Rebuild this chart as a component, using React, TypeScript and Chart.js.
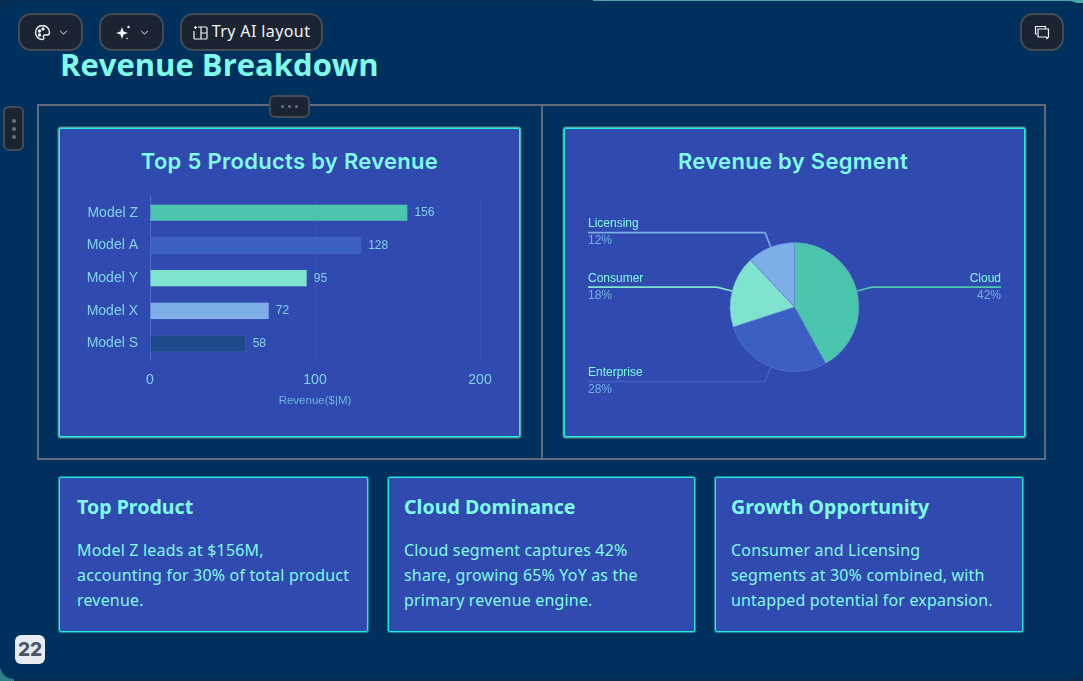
import { useEffect, useRef } from 'react';
import { Chart, registerables } from 'chart.js';

Chart.register(...registerables);

const productNames = ['Model Z', 'Model A', 'Model Y', 'Model X', 'Model S'];
const productRevenue = [156, 128, 95, 72, 58];
const productColors = ['#4cc5ae', '#3c5fc4', '#80e3cf', '#7daee8', '#1f4a8a'];
const revenueTicks = [0, 100, 200];

const segmentNames = ['Cloud', 'Enterprise', 'Consumer', 'Licensing'];
const segmentShare = [42, 28, 18, 12];
const segmentColors = ['#4cc5ae', '#3c5fc4', '#80e3cf', '#7daee8'];

const insights = [
  { title: 'Top Product', lines: ['Model Z leads at $156M,', 'accounting for 30% of total product', 'revenue.'] },
  { title: 'Cloud Dominance', lines: ['Cloud segment captures 42%', 'share, growing 65% YoY as the', 'primary revenue engine.'] },
  { title: 'Growth Opportunity', lines: ['Consumer and Licensing', 'segments at 30% combined, with', 'untapped potential for expansion.'] },
];

const CHART_FONT = '"Liberation Sans", Arial, sans-serif';
const TITLE_FONT = '"Open Sans", "Noto Sans", sans-serif';
const MINT = '#7ffbe9';
const TICK = '#7fd4ea';
const SOFT = '#6fb3e2';
const CARD = '#304ab0';

// value labels at the end of each bar
const barValues = {
  id: 'barValues',
  afterDatasetsDraw(chart: Chart) {
    const { ctx } = chart;
    ctx.save();
    ctx.font = `12px ${CHART_FONT}`;
    ctx.fillStyle = TICK;
    ctx.textBaseline = 'middle';
    chart.getDatasetMeta(0).data.forEach((bar, i) => {
      ctx.fillText(String(productRevenue[i]), bar.x + 7, bar.y);
    });
    ctx.restore();
  },
};

// leader lines and two-line labels around the pie
const pieLabels = {
  id: 'pieLabels',
  afterDatasetsDraw(chart: Chart) {
    const { ctx, width } = chart;
    ctx.save();
    ctx.font = `12px ${CHART_FONT}`;
    chart.getDatasetMeta(0).data.forEach((el: any, i) => {
      const { x, y, startAngle, endAngle, outerRadius } = el.getProps(['x', 'y', 'startAngle', 'endAngle', 'outerRadius'], true);
      const mid = (startAngle + endAngle) / 2;
      const cos = Math.cos(mid);
      const sin = Math.sin(mid);
      const right = cos > 0;
      const edge = right ? width - 23 : 23;
      const elbowY = y + sin * (outerRadius + 15.5);

      ctx.strokeStyle = segmentColors[i];
      ctx.lineWidth = 1.6;
      ctx.beginPath();
      ctx.moveTo(x + cos * outerRadius, y + sin * outerRadius);
      ctx.lineTo(x + cos * (outerRadius + 15.5), elbowY);
      ctx.lineTo(edge, elbowY);
      ctx.stroke();

      ctx.textAlign = right ? 'right' : 'left';
      ctx.textBaseline = 'middle';
      ctx.fillStyle = MINT;
      ctx.fillText(segmentNames[i], edge, elbowY - 8.5);
      ctx.fillStyle = SOFT;
      ctx.fillText(`${segmentShare[i]}%`, edge, elbowY + 8.5);
    });
    ctx.restore();
  },
};

function ProductChart() {
  const canvasRef = useRef<HTMLCanvasElement>(null);

  useEffect(() => {
    if (!canvasRef.current) return;
    const chart = new Chart(canvasRef.current, {
      type: 'bar',
      data: {
        labels: productNames,
        datasets: [{
          data: productRevenue,
          backgroundColor: productColors,
          borderColor: 'rgba(127,174,232,0.3)',
          borderWidth: 0.5,
          barThickness: 16.5,
        }],
      },
      plugins: [barValues],
      options: {
        indexAxis: 'y',
        animation: false,
        responsive: false,
        layout: { padding: { left: 0, right: 38, top: 0, bottom: 0 } },
        plugins: { legend: { display: false }, tooltip: { enabled: false } },
        scales: {
          x: {
            min: 0,
            max: 200,
            afterBuildTicks: (axis: any) => { axis.ticks = revenueTicks.map((value) => ({ value })); },
            grid: { color: 'rgba(70,100,190,0.35)', drawTicks: false },
            border: { display: false },
            ticks: { color: TICK, font: { family: CHART_FONT, size: 14 }, padding: 12, maxRotation: 0 },
            title: { display: true, text: 'Revenue($|M)', color: SOFT, font: { family: CHART_FONT, size: 11.5 }, padding: { top: 6, bottom: 0 } },
            afterFit: (axis: any) => { axis.height = 48; },
          },
          y: {
            grid: { display: false, drawTicks: false },
            border: { color: 'rgba(90,125,210,0.7)', width: 1 },
            ticks: { color: TICK, font: { family: CHART_FONT, size: 14 }, padding: 12 },
            afterFit: (axis: any) => { axis.width = 90; },
          },
        },
      },
    });
    return () => chart.destroy();
  }, []);

  return <canvas ref={canvasRef} width={458} height={232} style={{ position: 'absolute', left: 60, top: 176 }} />;
}

function SegmentChart() {
  const canvasRef = useRef<HTMLCanvasElement>(null);

  useEffect(() => {
    if (!canvasRef.current) return;
    const chart = new Chart(canvasRef.current, {
      type: 'pie',
      data: {
        labels: segmentNames,
        datasets: [{
          data: segmentShare,
          backgroundColor: segmentColors,
          borderColor: '#5f83cf',
          borderWidth: 0.5,
          radius: 64.5,
        }],
      },
      plugins: [pieLabels],
      options: {
        animation: false,
        responsive: false,
        plugins: { legend: { display: false }, tooltip: { enabled: false } },
      },
    });
    return () => chart.destroy();
  }, []);

  return <canvas ref={canvasRef} width={459} height={230} style={{ position: 'absolute', left: 565, top: 192 }} />;
}

function box(left: number, top: number, width: number, height: number) {
  return { position: 'absolute' as const, left, top, width, height, boxSizing: 'border-box' as const };
}

function ToolButton({ left, width, children }: { left: number; width: number; children: any }) {
  return (
    <div style={{ ...box(left, 13, width, 38), background: '#1b2431', border: '2px solid #454a55', borderRadius: 13, color: '#f2f4f7', display: 'flex', alignItems: 'center', justifyContent: 'center', gap: 8, fontFamily: '"Noto Sans", sans-serif', fontSize: 16 }}>
      {children}
    </div>
  );
}

const chevron = (
  <svg width="9" height="5" viewBox="0 0 10 6" fill="none" stroke="#f2f4f7" strokeWidth="1.2"><path d="M1 1l4 4 4-4" /></svg>
);

export default function App() {
  useEffect(() => {
    document.body.style.margin = '0';
    document.body.style.background = '#0e2a4c';
  }, []);

  return (
    <div style={{ position: 'fixed', left: 0, top: 0, width: 1083, height: 681, overflow: 'hidden', background: '#0e2a4c' }}>
      <div style={{ ...box(593, 0, 490, 3), background: '#4aa8a8' }} />
      <div style={{ ...box(0, 668, 14, 13), background: '#2f7f86' }} />
      <div style={{ ...box(0, 1, 1083, 678), background: '#00305e', borderRadius: 14 }} />

      <div style={{ position: 'absolute', left: 60, top: 41, fontFamily: TITLE_FONT, fontWeight: 700, fontSize: 31, lineHeight: '46px', color: MINT, whiteSpace: 'nowrap' }}>Revenue Breakdown</div>

      <div style={{ ...box(37, 104, 1009, 356), border: '2px solid #62697a' }} />
      <div style={{ ...box(541, 104, 2, 356), background: '#62697a' }} />

      {[58, 563].map((left, i) => (
        <div key={left} style={{ ...box(left + 1, 128, 461, 309), background: CARD, border: '1px solid #1ff0dc', borderRadius: 2, boxShadow: '0 0 0 1px #3fb5ae, 0 0 0 2px rgba(90,107,120,0.6)' }}>
          <div style={{ position: 'absolute', left: i === 0 ? 0 : -3, right: 0, top: 17, textAlign: 'center', fontFamily: '"Inter", sans-serif', fontWeight: 600, fontSize: 22, letterSpacing: 0.3, lineHeight: '30px', color: MINT, whiteSpace: 'nowrap' }}>
            {i === 0 ? 'Top 5 Products by Revenue' : 'Revenue by Segment'}
          </div>
        </div>
      ))}
      <ProductChart />
      <SegmentChart />

      {insights.map((card, i) => (
        <div key={card.title} style={{ ...box([59, 388, 715][i], 477, [309, 307, 308][i], 155), background: CARD, border: '1px solid #1ff0dc', borderRadius: 2, boxShadow: '0 0 0 1px rgba(31,240,220,0.45)', color: MINT, fontFamily: '"Noto Sans", sans-serif' }}>
          <div style={{ position: 'absolute', left: [17, 15, 15][i], top: 14, fontWeight: 700, fontSize: 19.6, lineHeight: '30px', whiteSpace: 'nowrap' }}>{card.title}</div>
          {card.lines.map((line, j) => (
            <div key={line} style={{ position: 'absolute', left: [17, 15, 15][i], top: 60 + j * 25, fontSize: 16, letterSpacing: 0.17, lineHeight: '25px', whiteSpace: 'nowrap' }}>{line}</div>
          ))}
        </div>
      ))}

      <ToolButton left={18} width={65}>
        <svg width="17" height="17" viewBox="0 0 17 17" fill="none" stroke="#f2f4f7" strokeWidth="1.4"><path d="M8.5 1.5a7 7 0 1 0 0 14c1.6 0 1.6-1.5 1-2.3-.6-1 0-2.2 1.3-2.2h2.2c1.5 0 2.5-1 2.5-2.5 0-3.8-3.2-7-7-7z" /><circle cx="5.5" cy="7" r="1" fill="#f2f4f7" /><circle cx="9" cy="5" r="1" fill="#f2f4f7" /><circle cx="5.5" cy="11" r="1" fill="#f2f4f7" /></svg>
        {chevron}
      </ToolButton>
      <ToolButton left={99} width={65}>
        <svg width="17" height="17" viewBox="0 0 17 17" fill="#f2f4f7"><path d="M7 3l1.6 4.4L13 9l-4.4 1.6L7 15l-1.6-4.4L1 9l4.4-1.6z" /><circle cx="13.5" cy="3" r="1.2" /><circle cx="12" cy="14.5" r=".8" /></svg>
        {chevron}
      </ToolButton>
      <ToolButton left={180} width={143}>
        <svg width="15" height="15" viewBox="0 0 15 15" fill="none" stroke="#f2f4f7" strokeWidth="1.2"><path d="M5 2h8a1 1 0 0 1 1 1v10a1 1 0 0 1-1 1H2a1 1 0 0 1-1-1V6M8 2v12M8 8h6" /><path d="M2.5 1v3M1 2.5h3" /></svg>
        <span style={{ marginLeft: -4, marginTop: -2, letterSpacing: 0.4 }}>Try AI layout</span>
      </ToolButton>
      <ToolButton left={1020} width={44}>
        <svg width="16" height="15" viewBox="0 0 16 15" fill="none" stroke="#f2f4f7" strokeWidth="1.2"><path d="M3 9H1.5V1.5h10V4" /><path d="M4 4h10.5v8l-1.5 1.5L12 12H4z" /></svg>
      </ToolButton>

      <div style={{ ...box(269, 95, 41, 23), background: '#1b2431', border: '2px solid #454a55', borderRadius: 6, display: 'flex', alignItems: 'center', justifyContent: 'center', gap: 4 }}>
        {[0, 1, 2].map((d) => <span key={d} style={{ width: 3, height: 3, borderRadius: 2, background: '#6b7280' }} />)}
      </div>
      <div style={{ ...box(3, 106, 21, 45), background: '#1b2431', border: '2px solid #454a55', borderRadius: 6, display: 'flex', flexDirection: 'column', alignItems: 'center', justifyContent: 'center', gap: 4 }}>
        {[0, 1, 2].map((d) => <span key={d} style={{ width: 4, height: 4, borderRadius: 2, background: '#6b7280' }} />)}
      </div>
      <div style={{ ...box(15, 635, 30, 29), background: '#e8ebf0', borderRadius: 6, color: '#4a5568', fontFamily: '"Inter", sans-serif', fontWeight: 800, fontSize: 19, textAlign: 'center', lineHeight: '29px' }}>22</div>
    </div>
  );
}
